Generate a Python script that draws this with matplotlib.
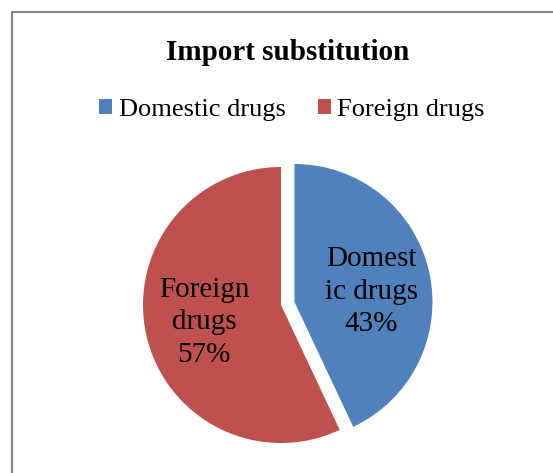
import matplotlib.pyplot as plt
from matplotlib.patches import Rectangle

plt.rcParams['font.family'] = ['Liberation Serif', 'DejaVu Serif']

# Data
categories = ["Domestic drugs", "Foreign drugs"]
slice_labels = ["Domest\nic drugs", "Foreign\ndrugs"]
values = [43, 57]
colors = ["#4F81BD", "#C0504D"]
explode = [0.1, 0.0]

W, H = 553, 473
fig = plt.figure(figsize=(W / 100, H / 100), dpi=100)

# chart border (Excel style, runs off the right/bottom edge)
fig.patches.append(Rectangle((11.5 / W, -0.05), 1.1, (H - 11.5) / H + 0.05,
                             transform=fig.transFigure, fill=False,
                             edgecolor="#888888", linewidth=1.6))

# pie axes: centre at (281, 305) px from top-left, radius 138 px
r = 138
cx, cy = 281, H - 305
lim = 1.2
half = lim * r
ax = fig.add_axes([(cx - half) / W, (cy - half) / H, 2 * half / W, 2 * half / H])

texts_full = [f"{l}\n{v}%" for l, v in zip(slice_labels, values)]
wedges, texts = ax.pie(values, labels=texts_full, colors=colors, explode=explode,
                       startangle=90, counterclock=False, labeldistance=0.57,
                       wedgeprops=dict(linewidth=0))
for t in texts:
    t.set_ha("center")
    t.set_va("center")
    t.set_fontsize(21)
    t.set_linespacing(1.32)
# small nudge of the domestic label, as in the original
x0, y0 = texts[0].get_position()
texts[0].set_position((x0, y0 - 0.05))
ax.set_xlim(-lim, lim)
ax.set_ylim(-lim, lim)
ax.set_aspect("equal")
ax.axis("off")

fig.text(288 / W, 1 - 60 / H, "Import substitution", ha="center", va="baseline",
         fontsize=21, fontweight="bold")

fig.legend(wedges, categories, loc="center", bbox_to_anchor=(292 / W, 1 - 110 / H),
           ncol=2, frameon=False, fontsize=19, handlelength=0.5, handleheight=0.5,
           handletextpad=0.25, columnspacing=1.2)

fig.savefig("out.png", dpi=100)
